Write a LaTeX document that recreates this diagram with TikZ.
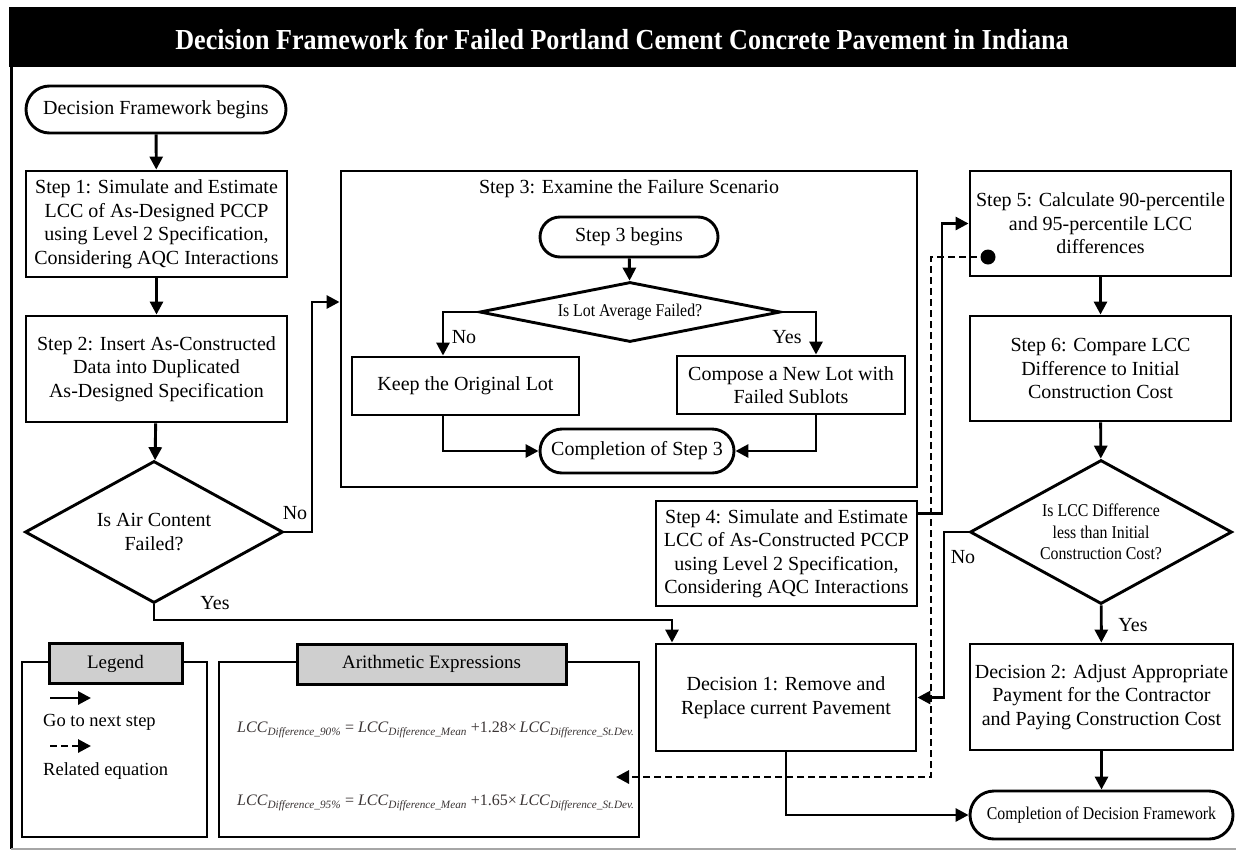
\documentclass[tikz,border=0pt]{standalone}
\usepackage{fontspec}
\setmainfont{Liberation Serif}
\newfontfamily\condfont[FakeStretch=0.88]{Liberation Serif}
\newfontfamily\titlefont[FakeStretch=0.9]{Liberation Serif}
\usetikzlibrary{arrows.meta,shapes.geometric,shapes.misc}
\definecolor{hdrgray}{HTML}{CFCFCF}
\definecolor{eqcol}{HTML}{3A3434}
\newcommand{\lcc}[1]{\textit{LCC}\textsubscript{\textit{#1}}}
\begin{document}
\begin{tikzpicture}[x=1pt,y=-1pt,
  every node/.style={font=\fontsize{20}{23.5}\selectfont, inner sep=0pt, align=center},
  box/.style={draw, line width=2.9pt, rectangle, fill=white},
  term/.style={draw, line width=2.9pt, rounded rectangle, fill=white},
  dia/.style={draw, line width=2.9pt, diamond, fill=white},
  hdr/.style={draw, line width=3pt, rectangle, fill=hdrgray, font=\fontsize{19}{22}\selectfont},
  cond/.style={font=\condfont\fontsize{18}{21.5}\selectfont},
  lbl/.style={font=\fontsize{20}{23.5}\selectfont},
  arr/.style={line width=2.9pt, -{Triangle[length=13pt,width=13pt]}},
  dasharr/.style={line width=2.9pt, dash pattern=on 7pt off 4pt, -{Triangle[length=13pt,width=13pt]}},
  eq/.style={font=\fontsize{16}{18}\selectfont, text=eqcol, anchor=west}
]
\useasboundingbox (0,0) rectangle (1236,852);
\fill[white] (0,0) rectangle (1236,852);
% title band and frame
\fill[black] (9,7) rectangle (1236,67);
\node[font=\titlefont\bfseries\fontsize{29}{34}\selectfont, text=white] (title) at (622,39)
  {Decision Framework for Failed Portland Cement Concrete Pavement in Indiana};
\draw[line width=3pt] (11,67) -- (11,849);
\draw[line width=2pt, black!35] (11,849) -- (1236,849);

% left column
\node[term, minimum width=260, minimum height=47] (start) at (156,109.5) {Decision Framework begins};
\node[box, minimum width=261, minimum height=106] (s1) at (156.5,224)
  {Step 1: Simulate and Estimate\\LCC of As-Designed PCCP\\using Level 2 Specification,\\Considering AQC Interactions};
\node[box, minimum width=261, minimum height=106] (s2) at (156.5,369)
  {Step 2: Insert As-Constructed\\Data into Duplicated\\As-Designed Specification};
\node[dia, aspect=1.82, minimum width=258, minimum height=142] (d1) at (154,532)
  {Is Air Content\\Failed?};

% step 3 block
\node[box, minimum width=576, minimum height=316] (s3) at (629,329) {};
\node (s3t) at (629,189) {Step 3: Examine the Failure Scenario};
\node[term, minimum width=178, minimum height=40] (s3b) at (629,237) {Step 3 begins};
\node[dia, aspect=5, minimum width=301, minimum height=60, cond] (dd2) at (630,312) {Is Lot Average Failed?};
\node[box, minimum width=227, minimum height=58] (keep) at (465.5,386) {Keep the Original Lot};
\node[box, minimum width=228, minimum height=58] (comp) at (791,385) {Compose a New Lot with\\Failed Sublots};
\node[term, minimum width=194, minimum height=44] (c3) at (637,451) {Completion of Step 3};
\coordinate (kx) at (443,0);
\coordinate (cx) at (816,0);
\draw[arr] (s3b) -- (dd2);
\draw[arr] (dd2.west) -| (kx |- keep.north);
\draw[arr] (dd2.east) -| (cx |- comp.north);
\node[lbl] (no2) at (464,337) {No};
\node[lbl] (yes2) at (787,337) {Yes};
\draw[arr] (kx |- keep.south) |- (c3.west);
\draw[arr] (cx |- comp.south) |- (c3.east);

% step 4
\node[box, minimum width=261, minimum height=105] (s4) at (786.5,553.5)
  {Step 4: Simulate and Estimate\\LCC of As-Constructed PCCP\\using Level 2 Specification,\\Considering AQC Interactions};

% right column
\node[box, minimum width=261, minimum height=105] (s5) at (1100.5,223.5)
  {Step 5: Calculate 90-percentile\\and 95-percentile LCC\\differences};
\node[box, minimum width=261, minimum height=105] (s6) at (1100.5,368.5)
  {Step 6: Compare LCC\\Difference to Initial\\Construction Cost};
\node[dia, aspect=1.82, minimum width=262, minimum height=144, cond] (d3) at (1101,532)
  {Is LCC Difference\\less than Initial\\Construction Cost?};
\node[box, minimum width=263, minimum height=106] (dec2) at (1101.5,697)
  {Decision 2: Adjust Appropriate\\Payment for the Contractor\\and Paying Construction Cost};
\node[term, minimum width=263, minimum height=48, cond] (end) at (1101.5,815) {Completion of Decision Framework};
\node[box, minimum width=260, minimum height=107] (dec1) at (786,697.5)
  {Decision 1: Remove and\\Replace current Pavement};
\node[circle, fill=black, minimum size=15] (dot) at (988,257) {};

% legend
\node[box, minimum width=185, minimum height=175] (lg) at (114.5,749.5) {};
\node[hdr, minimum width=133, minimum height=40] (lgh) at (115.5,663.5) {Legend};
\coordinate (la1) at (50,698);
\coordinate (lb1) at (91,698);
\coordinate (la2) at (50,746);
\coordinate (lb2) at (91,746);
\draw[arr] (la1) -- (lb1);
\draw[dasharr] (la2) -- (lb2);
\node[font=\fontsize{18.5}{22}\selectfont, anchor=west] (lgt1) at (43,722) {Go to next step};
\node[font=\fontsize{18.5}{22}\selectfont, anchor=west] (lgt2) at (43,771) {Related equation};

% arithmetic expressions
\node[box, minimum width=420, minimum height=175] (ar) at (429,749.5) {};
\node[hdr, minimum width=269, minimum height=40] (arh) at (431.5,664) {Arithmetic Expressions};
\node[eq] (eq1) at (237,730) {\lcc{Difference\_90\%} = \lcc{Difference\_Mean} +1.28\texttimes\,\lcc{Difference\_St.Dev.}};
\node[eq] (eq2) at (237,803) {\lcc{Difference\_95\%} = \lcc{Difference\_Mean} +1.65\texttimes\,\lcc{Difference\_St.Dev.}};

% main connectors
\coordinate (v1) at (312,302);
\coordinate (y1) at (672,620);
\coordinate (v4) at (942,0);
\coordinate (v3) at (944,0);
\coordinate (dcorner) at (931,777);
\coordinate (eqin) at (616,777);
\draw[arr] (start) -- (s1);
\draw[arr] (s1) -- (s2);
\draw[arr] (s2) -- (d1);
\draw[arr] (d1.east) -| (v1) -- (v1 -| s3.west);
\node[lbl] (no1) at (295,513) {No};
\draw[arr] (d1.south) |- (y1) -- (y1 |- dec1.north);
\node[lbl] (yes1) at (215,603) {Yes};
\draw[dasharr] (dot.center) -| (dcorner) -- (eqin);
\draw[arr] ([yshift=40pt]s4.east) -| (v4 |- s5.west) -- (s5.west);
\draw[arr] (s5) -- (s6);
\draw[arr] (s6) -- (d3);
\draw[arr] (d3) -- (dec2);
\node[lbl] (yes3) at (1133,625) {Yes};
\draw[arr] (d3.west) -| (v3 |- dec1.east) -- (dec1.east);
\node[lbl] (no3) at (963,557) {No};
\draw[arr] (dec2) -- (end);
\draw[arr] (dec1.south) |- (end.west);
\end{tikzpicture}
\end{document}
